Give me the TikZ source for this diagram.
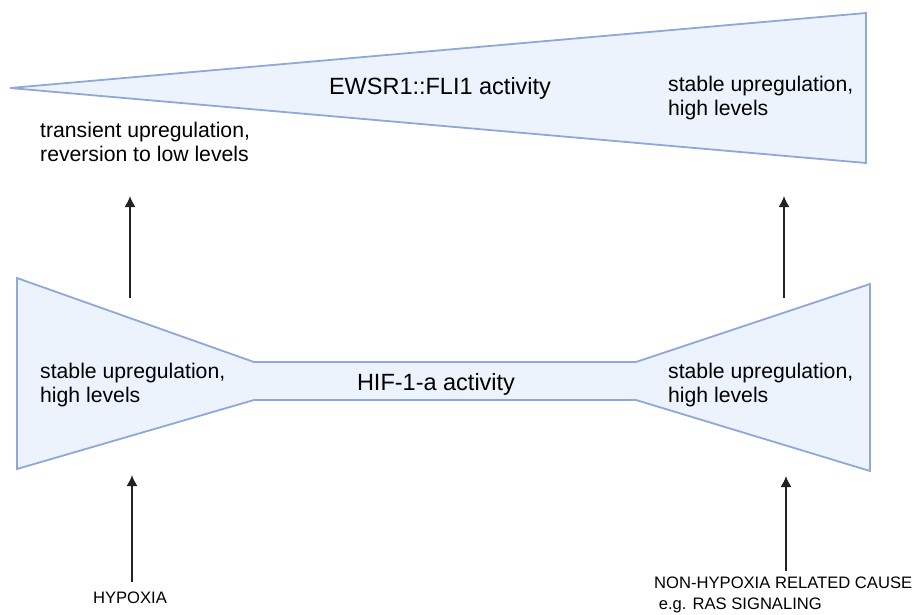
\documentclass[tikz,border=0pt]{standalone}
\usepackage{fontspec}
\setmainfont{Liberation Sans}
\usetikzlibrary{arrows.meta}
\definecolor{wedgefill}{HTML}{EDF3FC}
\definecolor{wedgeline}{HTML}{8FA8D8}
\definecolor{arrowgray}{HTML}{222222}

\begin{document}
\begin{tikzpicture}[x=1pt,y=-1pt,
  wedge/.style={fill=wedgefill, draw=wedgeline, line width=1.8pt, line join=miter},
  title/.style={font=\fontsize{23.5}{28}\selectfont, inner sep=0pt},
  note/.style={font=\fontsize{21.2}{24}\selectfont, align=left, anchor=west, inner sep=0pt},
  cause/.style={font=\fontsize{16.6}{21}\selectfont, align=left, inner sep=0pt},
  up/.style={-{Latex[length=11pt,width=11pt]}, line width=1.6pt, draw=arrowgray}]
  \useasboundingbox (0,0) rectangle (917,614);
  % the two activity shapes
  \draw[wedge] (10,88) -- (866,13) -- (866,163) -- cycle;
  \draw[wedge] (17,278) -- (254,362) -- (636,362) -- (870,284)
    -- (870,471) -- (636,400) -- (254,400) -- (17,469) -- cycle;
  \node[title] (ews) at (440,88) {EWSR1::FLI1 activity};
  \node[title] (hif) at (436,384) {HIF-1-a activity};
  \node[note] (ewslow) at (40,142) {transient upregulation,\\reversion to low levels};
  \node[note] (ewshigh) at (668,98) {stable upregulation,\\high levels};
  \node[note] (hifleft) at (40,385) {stable upregulation,\\high levels};
  \node[note] (hifright) at (668,385) {stable upregulation,\\high levels};
  % causes
  \node[cause] (hypoxia) at (130,598) {HYPOXIA};
  \node[cause, anchor=west] (ras) at (654,595) {NON-HYPOXIA RELATED CAUSE\\\ e.g. RAS SIGNALING};
  \coordinate (hyptip) at (132,475);
  \coordinate (rasbase) at (786,571);
  \coordinate (rastip) at (786,476);
  \coordinate (leftbase) at (130,298);
  \coordinate (lefttip) at (130,196);
  \coordinate (rightbase) at (784,298);
  \coordinate (righttip) at (784,196);
  \draw[up] (hypoxia.north -| hyptip) ++(0,-10) -- (hyptip);
  \draw[up] (rasbase) -- (rastip);
  \draw[up] (leftbase) -- (lefttip);
  \draw[up] (rightbase) -- (righttip);
\end{tikzpicture}
\end{document}
